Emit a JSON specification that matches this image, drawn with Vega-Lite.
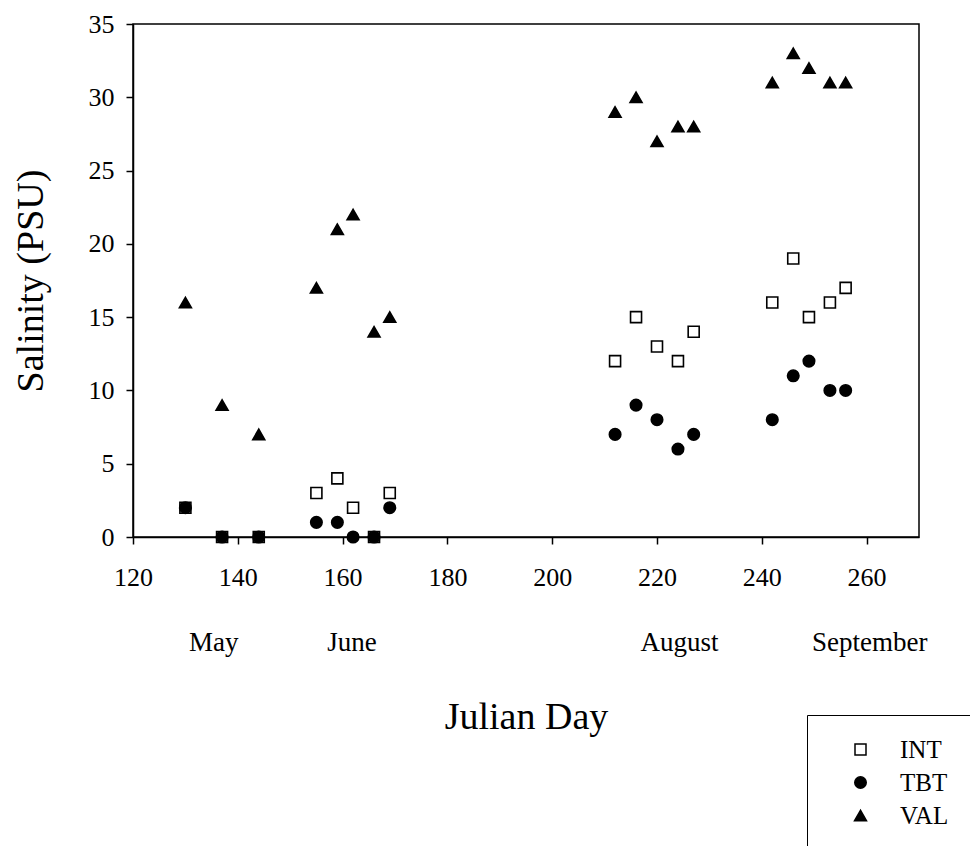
{
  "$schema": "https://vega.github.io/schema/vega-lite/v6.json",
  "width": 786,
  "height": 513,
  "autosize": {"type": "none"},
  "padding": {"left": 133, "top": 24, "right": 51, "bottom": 309},
  "background": "white",
  "config": {
    "font": "Liberation Serif",
    "view": {"stroke": "black", "strokeWidth": 1.5},
    "axis": {
      "grid": false,
      "domainColor": "black",
      "domainWidth": 1.5,
      "tickColor": "black",
      "tickWidth": 1.5,
      "tickSize": 7,
      "labelColor": "black",
      "labelFont": "Liberation Serif",
      "labelFontSize": 26,
      "titleColor": "black",
      "titleFont": "Liberation Serif",
      "titleFontSize": 38,
      "titleFontWeight": "normal"
    }
  },
  "datasets": {
    "salinity": [
      {"site": "INT", "day": 130, "salinity": 2},
      {"site": "INT", "day": 137, "salinity": 0},
      {"site": "INT", "day": 144, "salinity": 0},
      {"site": "INT", "day": 155, "salinity": 3},
      {"site": "INT", "day": 159, "salinity": 4},
      {"site": "INT", "day": 162, "salinity": 2},
      {"site": "INT", "day": 166, "salinity": 0},
      {"site": "INT", "day": 169, "salinity": 3},
      {"site": "INT", "day": 212, "salinity": 12},
      {"site": "INT", "day": 216, "salinity": 15},
      {"site": "INT", "day": 220, "salinity": 13},
      {"site": "INT", "day": 224, "salinity": 12},
      {"site": "INT", "day": 227, "salinity": 14},
      {"site": "INT", "day": 242, "salinity": 16},
      {"site": "INT", "day": 246, "salinity": 19},
      {"site": "INT", "day": 249, "salinity": 15},
      {"site": "INT", "day": 253, "salinity": 16},
      {"site": "INT", "day": 256, "salinity": 17},
      {"site": "TBT", "day": 130, "salinity": 2},
      {"site": "TBT", "day": 137, "salinity": 0},
      {"site": "TBT", "day": 144, "salinity": 0},
      {"site": "TBT", "day": 155, "salinity": 1},
      {"site": "TBT", "day": 159, "salinity": 1},
      {"site": "TBT", "day": 162, "salinity": 0},
      {"site": "TBT", "day": 166, "salinity": 0},
      {"site": "TBT", "day": 169, "salinity": 2},
      {"site": "TBT", "day": 212, "salinity": 7},
      {"site": "TBT", "day": 216, "salinity": 9},
      {"site": "TBT", "day": 220, "salinity": 8},
      {"site": "TBT", "day": 224, "salinity": 6},
      {"site": "TBT", "day": 227, "salinity": 7},
      {"site": "TBT", "day": 242, "salinity": 8},
      {"site": "TBT", "day": 246, "salinity": 11},
      {"site": "TBT", "day": 249, "salinity": 12},
      {"site": "TBT", "day": 253, "salinity": 10},
      {"site": "TBT", "day": 256, "salinity": 10},
      {"site": "VAL", "day": 130, "salinity": 16},
      {"site": "VAL", "day": 137, "salinity": 9},
      {"site": "VAL", "day": 144, "salinity": 7},
      {"site": "VAL", "day": 155, "salinity": 17},
      {"site": "VAL", "day": 159, "salinity": 21},
      {"site": "VAL", "day": 162, "salinity": 22},
      {"site": "VAL", "day": 166, "salinity": 14},
      {"site": "VAL", "day": 169, "salinity": 15},
      {"site": "VAL", "day": 212, "salinity": 29},
      {"site": "VAL", "day": 216, "salinity": 30},
      {"site": "VAL", "day": 220, "salinity": 27},
      {"site": "VAL", "day": 224, "salinity": 28},
      {"site": "VAL", "day": 227, "salinity": 28},
      {"site": "VAL", "day": 242, "salinity": 31},
      {"site": "VAL", "day": 246, "salinity": 33},
      {"site": "VAL", "day": 249, "salinity": 32},
      {"site": "VAL", "day": 253, "salinity": 31},
      {"site": "VAL", "day": 256, "salinity": 31}
    ],
    "months": [
      {"day": 135.4, "month": "May"},
      {"day": 161.8, "month": "June"},
      {"day": 224.3, "month": "August"},
      {"day": 260.6, "month": "September"}
    ]
  },
  "layer": [
    {
      "data": {"name": "salinity"},
      "mark": {"type": "point", "filled": false, "stroke": "black", "strokeWidth": 1.6, "opacity": 1},
      "encoding": {
        "x": {
          "field": "day",
          "type": "quantitative",
          "title": "Julian Day",
          "scale": {"domain": [120, 270], "nice": false, "zero": false},
          "axis": {
            "values": [120, 140, 160, 180, 200, 220, 240, 260],
            "labelPadding": 20,
            "titlePadding": 108,
            "labelFlush": false
          }
        },
        "y": {
          "field": "salinity",
          "type": "quantitative",
          "title": "Salinity (PSU)",
          "scale": {"domain": [0, 35], "nice": false},
          "axis": {
            "values": [0, 5, 10, 15, 20, 25, 30, 35],
            "labelPadding": 12,
            "titlePadding": 38,
            "labelFlush": false
          }
        },
        "shape": {
          "field": "site",
          "type": "nominal",
          "scale": {"domain": ["INT", "TBT", "VAL"], "range": ["square", "circle", "triangle-up"]},
          "legend": {
            "title": null, "orient": "none", "legendX": 674, "legendY": 691, "padding": 22,
            "symbolOffset": 19, "labelOffset": 27, "labelFont": "Liberation Serif", "labelFontSize": 25, "labelColor": "black",
            "labelBaseline": "middle", "strokeColor": "black", "fillColor": "white", "rowPadding": 7,
            "encode": {
              "symbols": {"update": {"stroke": {"value": "black"}, "strokeWidth": {"value": 1.6}}}
            }
          }
        },
        "fill": {
          "field": "site",
          "type": "nominal",
          "scale": {"domain": ["INT", "TBT", "VAL"], "range": ["#ffffff", "#000000", "#000000"]},
          "legend": {
            "title": null, "orient": "none", "legendX": 674, "legendY": 691, "padding": 22,
            "symbolOffset": 19, "labelOffset": 27, "labelFont": "Liberation Serif", "labelFontSize": 25, "labelColor": "black",
            "labelBaseline": "middle", "strokeColor": "black", "fillColor": "white", "rowPadding": 7,
            "encode": {
              "symbols": {"update": {"stroke": {"value": "black"}, "strokeWidth": {"value": 1.6}}}
            }
          }
        },
        "size": {
          "field": "site",
          "type": "nominal",
          "scale": {"domain": ["INT", "TBT", "VAL"], "range": [121, 143, 220]},
          "legend": {
            "title": null, "orient": "none", "legendX": 674, "legendY": 691, "padding": 22,
            "symbolOffset": 19, "labelOffset": 27, "labelFont": "Liberation Serif", "labelFontSize": 25, "labelColor": "black",
            "labelBaseline": "middle", "strokeColor": "black", "fillColor": "white", "rowPadding": 7,
            "encode": {
              "symbols": {"update": {"stroke": {"value": "black"}, "strokeWidth": {"value": 1.6}}}
            }
          }
        }
      }
    },
    {
      "data": {"name": "months"},
      "mark": {"type": "text", "font": "Liberation Serif", "fontSize": 27, "align": "center", "baseline": "middle", "color": "black"},
      "encoding": {
        "x": {"field": "day", "type": "quantitative", "title": "Julian Day"},
        "y": {"datum": -7.2, "type": "quantitative", "title": "Salinity (PSU)"},
        "text": {"field": "month", "type": "nominal"}
      }
    }
  ]
}
